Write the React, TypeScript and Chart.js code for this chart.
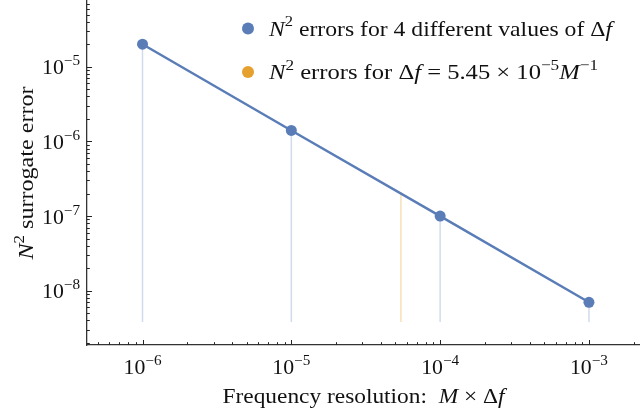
import React, { useEffect, useRef } from "react";
import { Chart, registerables } from "chart.js";

Chart.register(...registerables);

// ---- data ----
const resolutions = [1e-6, 1e-5, 1e-4, 1e-3];
const errors = [2.0e-5, 1.4e-6, 1.0e-7, 7.0e-9];
const singleResolution = [5.45e-5];
const singleError = [2.1e-7];
const stemBase = 3.8e-9;
const xTickExponents = [-6, -5, -4, -3];
const yTickExponents = [-8, -7, -6, -5];
const legendLabels = [
  "N² errors for 4 different values of Δf",
  "N² errors for Δf = 5.45 × 10⁻⁵M⁻¹",
];
const xTitle = "Frequency resolution: M × Δf";
const yTitle = "N² surrogate error";

// ---- style ----
const BLUE = "#5a7db8";
const ORANGE = "#e5a02d";
const BLUE_STEM = "rgba(90,125,184,0.28)";
const ORANGE_STEM = "rgba(229,160,45,0.32)";
const FONT = '"Liberation Serif", "Times New Roman", serif';
const TEXT = "#111";

const X_MIN = Math.pow(10, -6.373);
const X_MAX = Math.pow(10, -2.657);
const Y_MIN = Math.pow(10, -8.727);
const Y_MAX = Math.pow(10, -4.12);

type Seg = { t: string; it?: boolean; sup?: boolean };

function segFont(s: Seg, size: number) {
  const sz = s.sup ? size * 0.7 : size;
  return `${s.it ? "italic " : ""}${sz}px ${FONT}`;
}
function richWidth(ctx: CanvasRenderingContext2D, segs: Seg[], size: number) {
  let w = 0;
  for (const s of segs) {
    ctx.font = segFont(s, size);
    w += ctx.measureText(s.t).width;
  }
  return w;
}
function drawRich(
  ctx: CanvasRenderingContext2D,
  segs: Seg[],
  x: number,
  baseline: number,
  size: number,
  width: number,
  align: "left" | "center" | "right"
) {
  const nat = richWidth(ctx, segs, size);
  const sx = width ? width / nat : 1;
  const total = nat * sx;
  const x0 = align === "left" ? x : align === "center" ? x - total / 2 : x - total;
  ctx.save();
  ctx.translate(x0, baseline);
  ctx.scale(sx, 1);
  ctx.textBaseline = "alphabetic";
  ctx.textAlign = "left";
  ctx.fillStyle = TEXT;
  let cx = 0;
  for (const s of segs) {
    ctx.font = segFont(s, size);
    ctx.fillText(s.t, cx, s.sup ? -size * 0.42 : 0);
    cx += ctx.measureText(s.t).width;
  }
  ctx.restore();
}

// rich-text versions of the labels (italic math letters, superscripts)
const powerSegs = (e: number): Seg[] => [{ t: "10" }, { t: "−" + Math.abs(e), sup: true }];
const legendSegs: Seg[][] = [
  [{ t: "N", it: true }, { t: "2", sup: true }, { t: " errors for 4 different values of Δ" }, { t: "f", it: true }],
  [
    { t: "N", it: true },
    { t: "2", sup: true },
    { t: " errors for Δ" },
    { t: "f", it: true },
    { t: " = 5.45 × 10" },
    { t: "−5", sup: true },
    { t: "M", it: true },
    { t: "−1", sup: true },
  ],
];
const xTitleSegs: Seg[] = [{ t: "Frequency resolution:  " }, { t: "M", it: true }, { t: " × Δ" }, { t: "f", it: true }];
const yTitleSegs: Seg[] = [{ t: "N", it: true }, { t: "2", sup: true }, { t: " surrogate error" }];

const decorPlugin = {
  id: "decor",
  afterDraw(chart: any) {
    const ctx: CanvasRenderingContext2D = chart.ctx;
    const xs = chart.scales.x;
    const ys = chart.scales.y;
    const area = chart.chartArea;
    ctx.save();
    ctx.strokeStyle = "#222";
    ctx.lineWidth = 1;
    // x ticks (inward)
    for (let e = -8; e <= -1; e++) {
      for (let m = 1; m <= 9; m++) {
        const v = m * Math.pow(10, e);
        if (v < xs.min || v > xs.max) continue;
        const px = Math.round(xs.getPixelForValue(v)) + 0.5;
        const len = m === 1 ? 5 : 2.8;
        ctx.beginPath();
        ctx.moveTo(px, area.bottom);
        ctx.lineTo(px, area.bottom - len);
        ctx.stroke();
      }
    }
    // y ticks (inward)
    for (let e = -10; e <= -3; e++) {
      for (let m = 1; m <= 9; m++) {
        const v = m * Math.pow(10, e);
        if (v < ys.min || v > ys.max) continue;
        const py = Math.round(ys.getPixelForValue(v)) + 0.5;
        const len = m === 1 ? 5 : 2.8;
        ctx.beginPath();
        ctx.moveTo(area.left, py);
        ctx.lineTo(area.left + len, py);
        ctx.stroke();
      }
    }
    ctx.restore();

    // tick labels
    for (const e of xTickExponents) {
      const px = xs.getPixelForValue(Math.pow(10, e));
      drawRich(ctx, powerSegs(e), px, 374, 21, 38, "center");
    }
    for (const e of yTickExponents) {
      const py = ys.getPixelForValue(Math.pow(10, e));
      drawRich(ctx, powerSegs(e), 80, py + 7.6, 21, 38, "right");
    }

    // axis titles
    drawRich(ctx, xTitleSegs, (area.left + area.right) / 2, 403, 21.5, 282, "center");
    ctx.save();
    ctx.translate(33, (area.top + area.bottom) / 2);
    ctx.rotate(-Math.PI / 2);
    drawRich(ctx, yTitleSegs, 0, 0, 21.5, 173, "center");
    ctx.restore();

    // legend
    const colors = [BLUE, ORANGE];
    const baselines = [35.5, 79];
    const widths = [343, 329];
    legendSegs.forEach((segs, i) => {
      ctx.save();
      ctx.fillStyle = colors[i];
      ctx.beginPath();
      ctx.arc(248, baselines[i] - 7, 6, 0, Math.PI * 2);
      ctx.fill();
      ctx.restore();
      drawRich(ctx, segs, 269, baselines[i], 21.5, widths[i], "left");
    });
  },
};

export default function App() {
  const ref = useRef<HTMLCanvasElement | null>(null);
  useEffect(() => {
    document.body.style.margin = "0";
    const canvas = ref.current;
    if (!canvas) return;
    const stems = resolutions.map((x, i) => ({
      label: "stem " + i,
      data: [
        { x, y: stemBase },
        { x, y: errors[i] },
      ],
      borderColor: BLUE_STEM,
      backgroundColor: BLUE_STEM,
      borderWidth: 1.5,
      pointRadius: 0,
      pointHoverRadius: 0,
    }));
    const orangeStems = singleResolution.map((x, i) => ({
      label: legendLabels[1],
      data: [
        { x, y: stemBase },
        { x, y: singleError[i] },
      ],
      borderColor: ORANGE_STEM,
      backgroundColor: ORANGE,
      borderWidth: 1.5,
      pointRadius: 0,
      pointHoverRadius: 0,
    }));
    const chart = new Chart(canvas, {
      type: "line",
      data: {
        datasets: [
          {
            label: legendLabels[0],
            data: resolutions.map((x, i) => ({ x, y: errors[i] })),
            borderColor: BLUE,
            backgroundColor: BLUE,
            borderWidth: 2.5,
            pointRadius: 5.5,
            pointHoverRadius: 5.5,
            pointBorderWidth: 0,
            tension: 0,
          },
          ...orangeStems,
          ...stems,
        ] as any,
      },
      options: {
        responsive: false,
        animation: false,
        devicePixelRatio: 1,
        layout: { autoPadding: false, padding: { left: 87, top: 1, right: 0, bottom: 72 } },
        plugins: { legend: { display: false }, tooltip: { enabled: false } },
        scales: {
          x: {
            type: "logarithmic",
            min: X_MIN,
            max: X_MAX,
            bounds: "data",
            grid: { display: false, drawTicks: false },
            ticks: { display: false },
            border: { display: true, color: "#333", width: 1.3 },
          },
          y: {
            type: "logarithmic",
            min: Y_MIN,
            max: Y_MAX,
            bounds: "data",
            grid: { display: false, drawTicks: false },
            ticks: { display: false },
            border: { display: true, color: "#333", width: 1.3 },
          },
        },
      } as any,
      plugins: [decorPlugin],
    });
    return () => chart.destroy();
  }, []);
  return (
    <div style={{ width: 640, height: 417 }}>
      <canvas ref={ref} width={640} height={417} style={{ display: "block" }} />
    </div>
  );
}
